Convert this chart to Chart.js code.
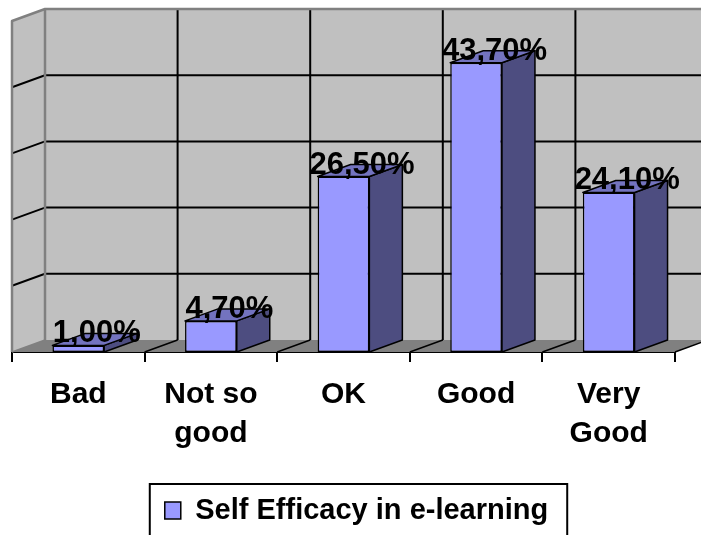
<!DOCTYPE html>
<html>
<head>
<meta charset="utf-8">
<script src="https://cdn.jsdelivr.net/npm/chart.js@4/dist/chart.umd.min.js"></script>
<style>
  body { margin: 0; background: #fff; }
  canvas { display: block; }
</style>
</head>
<body>
<canvas id="chart" width="701" height="535"></canvas>
<script>
// data
var categories = [["Bad"], ["Not so", "good"], ["OK"], ["Good"], ["Very", "Good"]];
var efficacy = [1.0, 4.7, 26.5, 43.7, 24.1];
var yTicks = [0, 10, 20, 30, 40, 50];
var seriesName = "Self Efficacy in e-learning";

// 3d depth offset
var DX = 33, DY = -12;
var FONT = "'Liberation Sans', Arial, sans-serif";

function poly(ctx, pts, fill, stroke, lw, open) {
  ctx.beginPath();
  ctx.moveTo(pts[0][0], pts[0][1]);
  for (var i = 1; i < pts.length; i++) ctx.lineTo(pts[i][0], pts[i][1]);
  if (!open) ctx.closePath();
  if (fill) { ctx.fillStyle = fill; ctx.fill(); }
  if (stroke) { ctx.strokeStyle = stroke; ctx.lineWidth = lw || 1; ctx.stroke(); }
}
function line(ctx, x1, y1, x2, y2, color, lw) {
  ctx.beginPath();
  ctx.moveTo(x1, y1); ctx.lineTo(x2, y2);
  ctx.strokeStyle = color; ctx.lineWidth = lw; ctx.stroke();
}

var walls = {
  id: "walls",
  afterLayout: function(chart) {
    // legend sits a bit right of the plot centre
    chart.legend.left += 13;
    chart.legend.right += 13;
  },
  beforeDatasetsDraw: function(chart) {
    var ctx = chart.ctx, a = chart.chartArea, xs = chart.scales.x, ys = chart.scales.y;
    var L = a.left, R = a.right, T = a.top, B = a.bottom;
    ctx.save();
    // back wall, left wall, floor
    poly(ctx, [[L + DX, T + DY], [R + DX, T + DY], [R + DX, B + DY], [L + DX, B + DY]], "#c0c0c0");
    poly(ctx, [[L, T], [L + DX, T + DY], [L + DX, B + DY], [L, B]], "#c0c0c0");
    poly(ctx, [[L, B], [R, B], [R + DX, B + DY], [L + DX, B + DY]], "#808080");
    // horizontal grid
    yTicks.forEach(function(v) {
      if (v === 0 || v === yTicks[yTicks.length - 1]) return;
      var y = ys.getPixelForValue(v);
      line(ctx, L + DX, y + DY, R + DX, y + DY, "#000", 2);
      line(ctx, L, y, L + DX, y + DY, "#000", 2);
    });
    // vertical grid between categories
    var n = categories.length;
    var step = xs.getPixelForValue(1) - xs.getPixelForValue(0);
    for (var i = 1; i <= n; i++) {
      var x = xs.getPixelForValue(i - 1) + step / 2;
      if (i < n) line(ctx, x + DX, T + DY, x + DX, B + DY, "#000", 2);
      line(ctx, x, B, x + DX, B + DY, "#000", 1.5);
    }
    // wall edges
    ctx.lineJoin = "round";
    poly(ctx, [[L, B], [L, T], [L + DX, T + DY], [R + DX + 5, T + DY]], null, "#808080", 2.5, true);
    line(ctx, L + DX, T + DY, L + DX, B + DY, "#808080", 2.5);
    line(ctx, L, B, L + DX, B + DY, "#808080", 1.5);
    ctx.restore();
  },
  afterDatasetsDraw: function(chart) {
    var ctx = chart.ctx;
    var meta = chart.getDatasetMeta(0);
    ctx.save();
    ctx.lineJoin = "round";
    meta.data.forEach(function(bar) {
      var p = bar.getProps(["x", "y", "base", "width"], true);
      var xl = p.x - p.width / 2, xr = p.x + p.width / 2;
      poly(ctx, [[xr, p.y], [xr + DX, p.y + DY], [xr + DX, p.base + DY], [xr, p.base]], "#4d4d80", "#000", 1.5);
      poly(ctx, [[xl, p.y], [xl + DX, p.y + DY], [xr + DX, p.y + DY], [xr, p.y]], "#7373bf", "#000", 1.5);
    });
    ctx.fillStyle = "#000";
    ctx.font = "bold 31px " + FONT;
    ctx.textAlign = "center";
    ctx.textBaseline = "alphabetic";
    meta.data.forEach(function(bar, i) {
      var p = bar.getProps(["x", "y"], true);
      var txt = efficacy[i].toFixed(2).replace(".", ",") + "%";
      ctx.fillText(txt, p.x + DX / 2 + 2, p.y - 3);
    });
    ctx.restore();
  },
  afterDraw: function(chart) {
    var hb = chart.legend.legendHitBoxes[0];
    if (!hb) return;
    var ctx = chart.ctx;
    ctx.save();
    ctx.strokeStyle = "#000";
    ctx.lineWidth = 2;
    ctx.strokeRect(hb.left - 15, hb.top - 12, hb.width + 34, 80);
    ctx.restore();
  }
};

new Chart(document.getElementById("chart"), {
  type: "bar",
  data: {
    labels: categories,
    datasets: [{
      label: seriesName,
      data: efficacy,
      backgroundColor: "#9999ff",
      borderColor: "#000",
      borderWidth: 1.5,
      borderSkipped: false,
      categoryPercentage: 1,
      barPercentage: 0.39
    }]
  },
  options: {
    responsive: false,
    animation: false,
    layout: { padding: { left: 12, right: 26, top: 21, bottom: 0 } },
    scales: {
      x: {
        grid: { offset: true, drawOnChartArea: false, drawTicks: true, tickLength: 10, color: "#000", lineWidth: 2 },
        border: { display: true, color: "#000", width: 2 },
        ticks: { color: "#000", font: { family: FONT, size: 30, weight: "bold", lineHeight: 1.3 }, padding: 13, maxRotation: 0, autoSkip: false },
        afterFit: function(scale) { scale.height = 134; }
      },
      y: {
        display: false,
        min: 0, max: 50,
        ticks: { stepSize: 10 }
      }
    },
    plugins: {
      legend: {
        position: "bottom",
        labels: {
          color: "#000",
          font: { family: FONT, size: 29, weight: "bold" },
          boxWidth: 16, boxHeight: 17, padding: 10
        }
      },
      tooltip: { enabled: false }
    }
  },
  plugins: [walls]
});
</script>
</body>
</html>
